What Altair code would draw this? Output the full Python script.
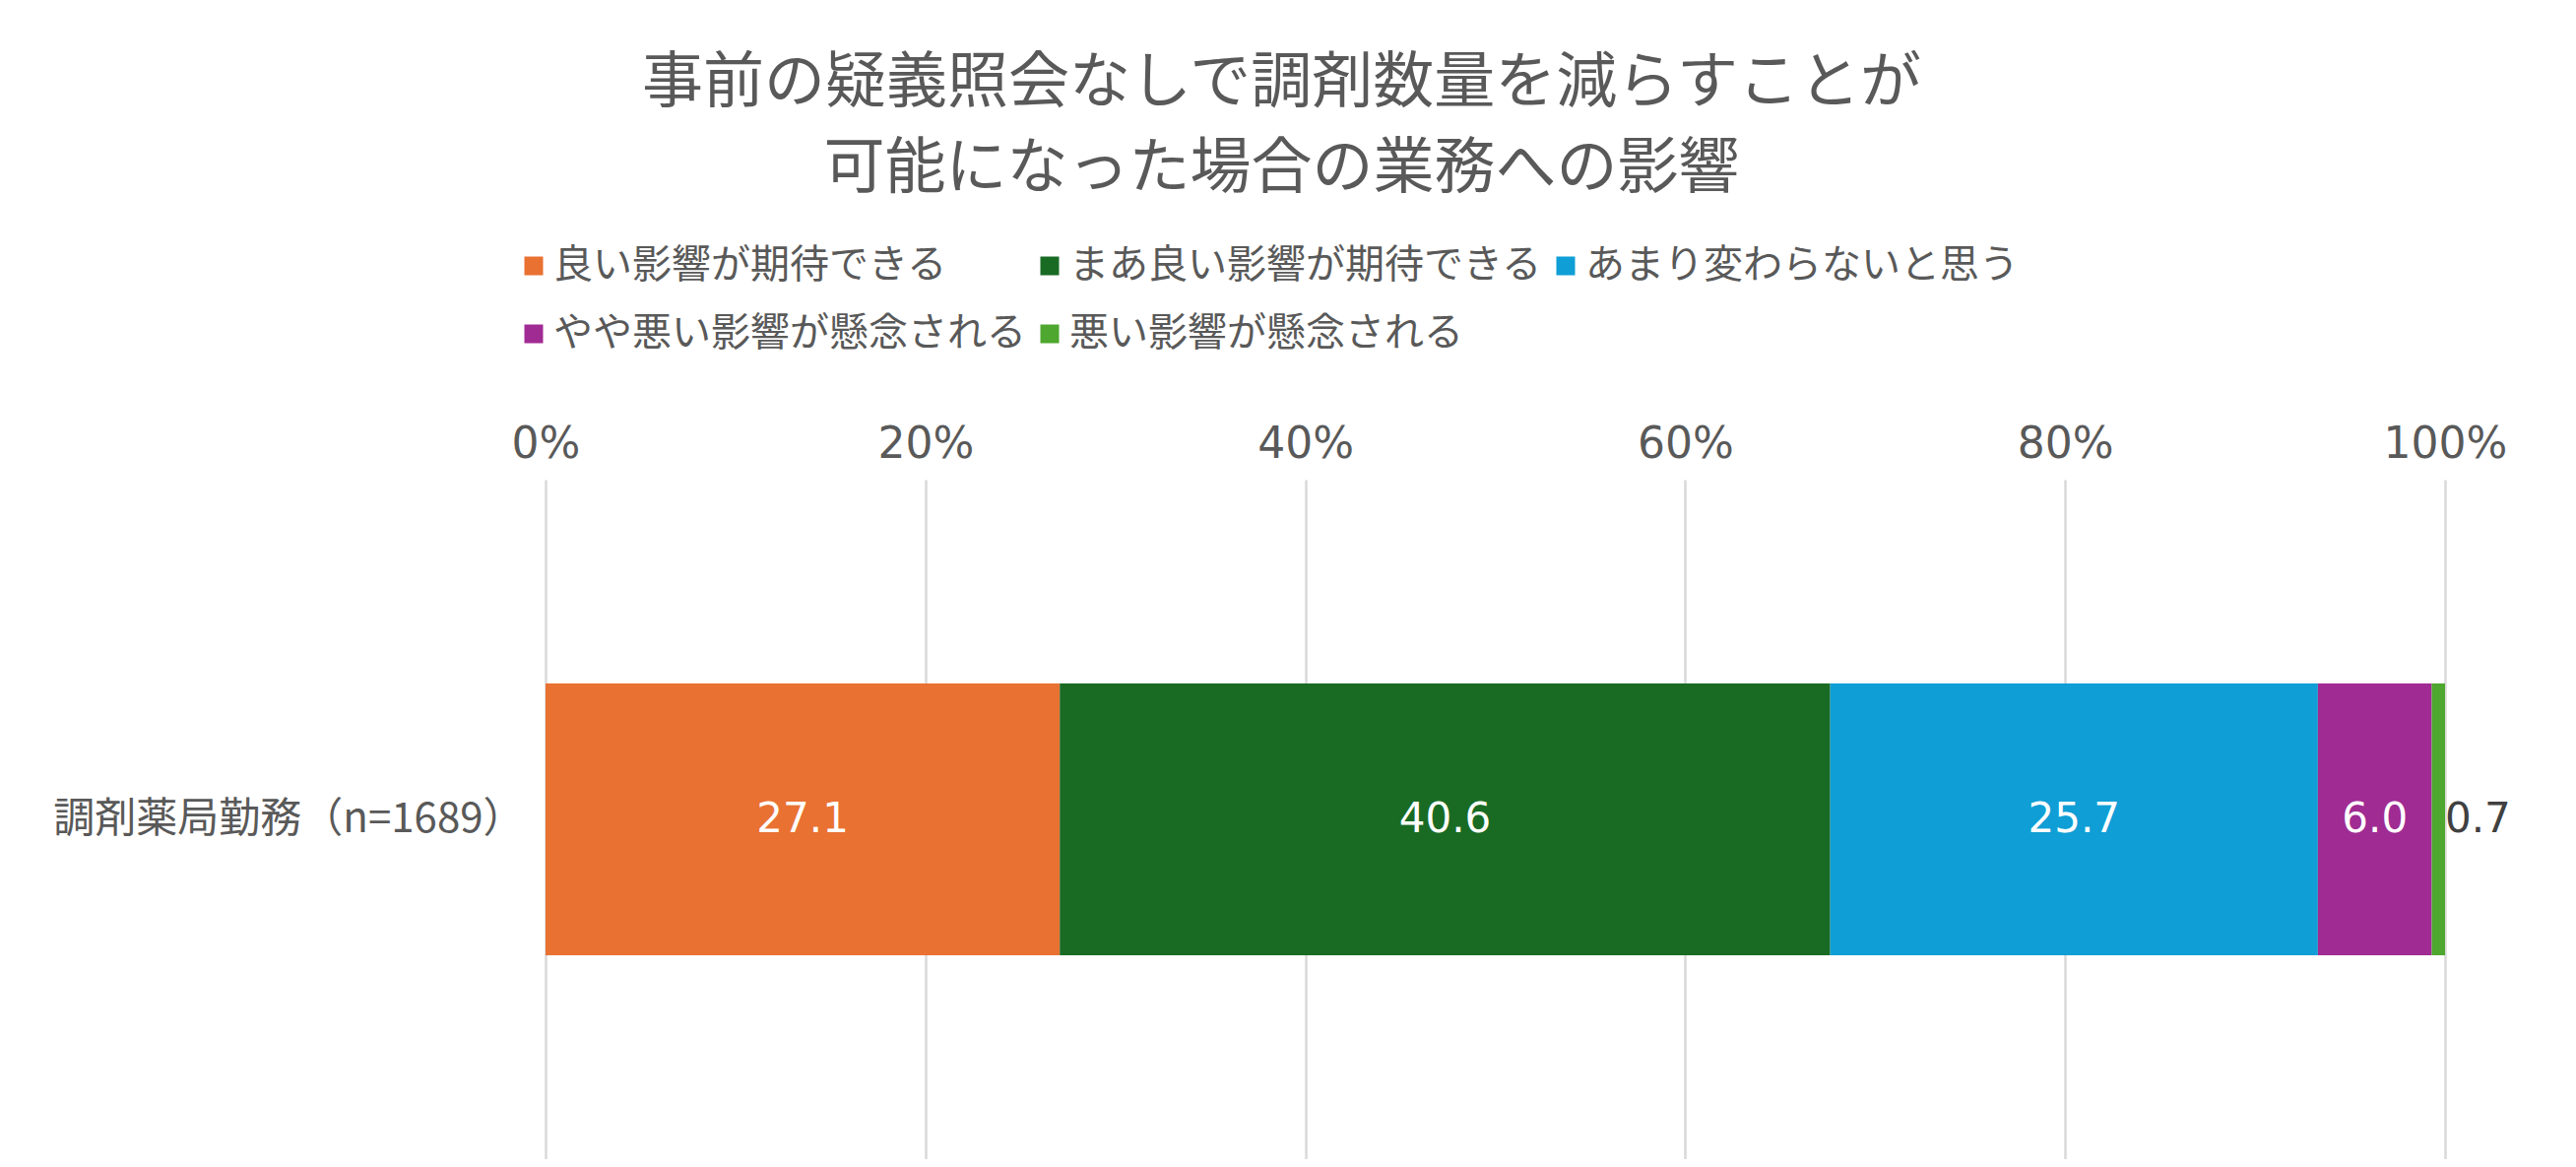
import pandas as pd
import altair as alt

# ---- data ----
groups = ["調剤薬局勤務（n=1689）"]
answers = [
    "良い影響が期待できる",
    "まあ良い影響が期待できる",
    "あまり変わらないと思う",
    "やや悪い影響が懸念される",
    "悪い影響が懸念される",
]
shares = [27.1, 40.6, 25.7, 6.0, 0.7]
colors = ["#E97132", "#196B24", "#0F9ED5", "#A02B93", "#4EA72E"]

title_lines = ["事前の疑義照会なしで調剤数量を減らすことが", "可能になった場合の業務への影響"]

df = pd.DataFrame({
    "group": groups * len(answers),
    "answer": answers,
    "share": shares,
    "rank": list(range(len(answers))),
})

JP = "Noto Sans CJK JP"
NUM = "DejaVu Sans, Noto Sans CJK JP"
GRAY = "#595959"

base = alt.Chart(df).transform_stack(
    stack="share", as_=["x0", "x1"], groupby=["group"], sort=[alt.SortField("rank")], offset="normalize"
).transform_calculate(mid="(datum.x0 + datum.x1) / 2")

y_enc = alt.Y(
    "group:N",
    title=None,
    scale=alt.Scale(paddingInner=0, paddingOuter=0.75),
    axis=alt.Axis(labelFont=JP, labelFontSize=42, labelColor=GRAY, labelPadding=22,
                  domain=False, ticks=False, grid=False, labelLimit=600),
)

bars = base.mark_bar().encode(
    x=alt.X(
        "x0:Q",
        title=None,
        scale=alt.Scale(domain=[0, 1]),
        axis=alt.Axis(orient="top", format="%", values=[0, 0.2, 0.4, 0.6, 0.8, 1.0],
                      labelFont=NUM, labelFontSize=44, labelColor=GRAY, labelPadding=14,
                      labelFlush=False, labelBound=False,
                      domain=False, ticks=False, grid=True, gridColor="#D9D9D9", gridWidth=2.5),
    ),
    x2="x1:Q",
    y=y_enc,
    color=alt.Color(
        "answer:N",
        scale=alt.Scale(domain=answers, range=colors),
        sort=answers,
        legend=alt.Legend(
            title=None, orient="none", legendX=-32, legendY=-237, columns=3,
            direction="horizontal", symbolType="square", symbolSize=361,
            symbolStrokeWidth=0, labelFont=JP, labelFontSize=40, labelColor=GRAY,
            labelOffset=0, columnPadding=4, rowPadding=29, padding=0, labelLimit=700,
        ),
    ),
    order=alt.Order("rank:Q"),
)

inside = base.transform_filter("datum.rank < 4").mark_text(
    font=NUM, fontSize=42, color="white", align="center", baseline="middle"
).encode(
    x="mid:Q",
    y=alt.Y("group:N"),
    text=alt.Text("share:Q", format=".1f"),
)

outside = base.transform_filter("datum.rank == 4").mark_text(
    font=NUM, fontSize=42, color="#404040", align="left", baseline="middle", dx=0
).encode(
    x="x1:Q",
    y=alt.Y("group:N"),
    text=alt.Text("share:Q", format=".1f"),
)

chart = alt.layer(bars, inside, outside).properties(
    width=1929,
    height=690,
    autosize=alt.AutoSizeParams(type="none"),
    padding={"left": 546, "top": 479, "right": 125, "bottom": 0},
    background="white",
    title=alt.TitleParams(
        text=title_lines, font=JP, fontSize=62, fontWeight="normal", color=GRAY,
        lineHeight=87, anchor="middle", frame="group", dx=-217, offset=46,
    ),
).configure_view(stroke="transparent", strokeWidth=0).configure_axis(
    domain=False, ticks=False
)

chart.save("out.html", embed_options={"renderer": "svg", "actions": False})
